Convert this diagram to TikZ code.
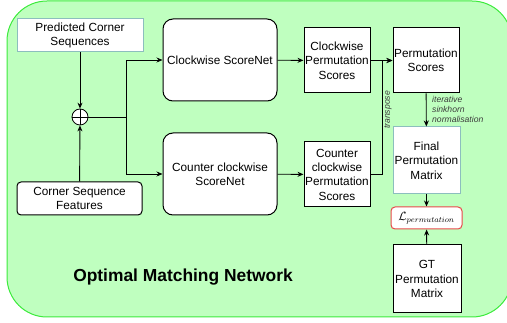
\documentclass[tikz,border=0pt]{standalone}
\usepackage{fontspec}
\setmainfont{Liberation Sans}
\usetikzlibrary{positioning,arrows.meta,calc}
\definecolor{netbg}{RGB}{191,255,191}
\definecolor{netline}{RGB}{60,235,60}
\definecolor{tealedge}{RGB}{140,190,190}
\definecolor{lossred}{RGB}{232,72,72}
\definecolor{notegray}{RGB}{60,60,60}
\newcommand{\lblfont}{\fontsize{11.8}{14.3}\selectfont}
\newcommand{\notefont}{\fontsize{8.6}{10}\selectfont\itshape}
\tikzset{
  blk/.style={draw,fill=white,align=center,font=\lblfont,line width=1pt,inner sep=1pt},
  rblk/.style={blk,rounded corners=10pt},
  tblk/.style={blk,draw=tealedge},
  lossblk/.style={blk,draw=lossred,rounded corners=4pt,inner sep=0pt},
  note/.style={align=left,font=\notefont,text=notegray,inner sep=0pt},
  ar/.style={-{Stealth[length=6pt,width=5pt]},line width=0.9pt},
}

\begin{document}
\begin{tikzpicture}[x=1pt,y=-1pt]
  \useasboundingbox (0,0) rectangle (507,323);
  \filldraw[fill=netbg,draw=netline,line width=1pt,rounded corners=40pt] (7,1) rectangle (512,317);

  % inputs
  \node[tblk,minimum width=126pt,minimum height=33pt] (pcs) at (80,35.5) {Predicted Corner\\Sequences};
  \node[blk,rounded corners=4pt,minimum width=125pt,minimum height=33pt] (csf) at (79.5,198.5) {Corner Sequence\\Features};
  \node[draw,fill=white,circle,line width=0.8pt,minimum size=16pt,inner sep=0pt] (plus) at (80,117) {};
  \draw[line width=0.6pt] (plus.north) -- (plus.south) (plus.west) -- (plus.east);

  % score nets
  \node[rblk,minimum width=114pt,minimum height=82pt] (cwnet) at (220,60) {Clockwise ScoreNet};
  \node[rblk,minimum width=114pt,minimum height=82pt] (ccwnet) at (220,174) {Counter clockwise\\ScoreNet};
  \node[blk,minimum width=66pt,minimum height=65pt] (cwps) at (337,60.5) {Clockwise\\Permutation\\Scores};
  \node[blk,minimum width=66pt,minimum height=65pt] (ccwps) at (337,174.5) {Counter\\clockwise\\Permutation\\Scores};

  % right column
  \node[blk,minimum width=66pt,minimum height=65pt] (ps) at (426,60.5) {Permutation\\Scores};
  \node[tblk,minimum width=67pt,minimum height=67pt] (fpm) at (426.5,160.5) {Final\\Permutation\\Matrix};
  \node[lossblk,minimum width=71pt,minimum height=22pt] (loss) at (426.5,218) {$\mathcal{L}_{permutation}$};
  \node[blk,minimum width=68pt,minimum height=68pt] (gt) at (427,279) {GT\\Permutation\\Matrix};

  \node[font=\fontsize{17.4}{20}\selectfont\bfseries] (title) at (183,277) {Optimal Matching Network};

  % connectors
  \coordinate (split) at (126,117);
  \coordinate (tpose) at (382,174.5);
  \draw[ar] (pcs) -- (plus);
  \draw[ar] (csf) -- (plus);
  \draw[line width=0.9pt] (plus) -- (split);
  \draw[ar] (split) |- (cwnet);
  \draw[ar] (split) |- (ccwnet);
  \draw[ar] (cwnet) -- (cwps);
  \draw[ar] (ccwnet) -- (ccwps);
  \draw[ar] (cwps) -- (ps);
  \draw[ar] (ccwps) -- (tpose) |- (ps);
  \node[note,rotate=90] (tlabel) at (388,110) {transpose};
  \draw[ar] (ps) -- (fpm);
  \node[note,anchor=west] (sink) at (432,109) {iterative\\sinkhorn\\normalisation};
  \draw[ar] (fpm) -- (loss);
  \draw[ar] (gt) -- (loss);
\end{tikzpicture}
\end{document}
